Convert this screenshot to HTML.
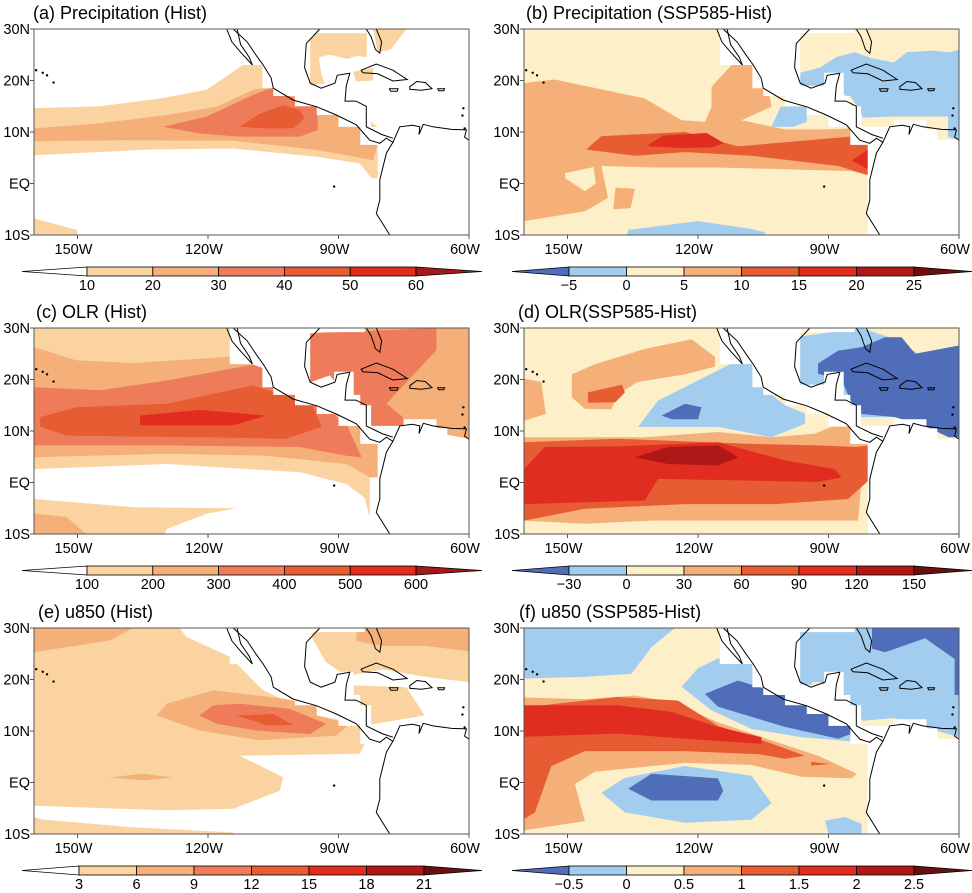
<!DOCTYPE html>
<html><head><meta charset="utf-8">
<style>
html,body{margin:0;padding:0;background:#fff;}
svg{display:block;font-family:"Liberation Sans",Arial,sans-serif;}
</style></head>
<body>
<svg id="fig" width="972" height="893" viewBox="0 0 972 893" xmlns="http://www.w3.org/2000/svg"></svg>
<script>
// ---------- data (lon in degrees E, negative = W; lat in degrees N) ----------
const lonTicks = [-150, -120, -90, -60];
const lonTickLabels = ["150W", "120W", "90W", "60W"];
const latTicks = [30, 20, 10, 0, -10];
const latTickLabels = ["30N", "20N", "10N", "EQ", "10S"];

const seqColors = ["#ffffff", "#fbd3a0", "#f5b07a", "#ee7b59", "#e75c33", "#e02d1f", "#b01818", "#6b1010"];
const divColors = ["#4f6db8", "#a3cdef", "#fdefc8", "#f5b07a", "#e75c33", "#e02d1f", "#b01818", "#6b1010"];

const precipLevels = ["10", "20", "30", "40", "50", "60"];
const precipDiffLevels = ["\u22125", "0", "5", "10", "15", "20", "25"];
const olrLevels = ["100", "200", "300", "400", "500", "600"];
const olrDiffLevels = ["\u221230", "0", "30", "60", "90", "120", "150"];
const uLevels = ["3", "6", "9", "12", "15", "18", "21"];
const uDiffLevels = ["\u22120.5", "0", "0.5", "1", "1.5", "2", "2.5"];

const precipHist = [
 [1, [[-160,14.6],[-144.8,15],[-131,16.5],[-120.3,18.2],[-112,23],[-100,23],[-90,15],[-85,12],[-83,10],[-80,7.2],[-80,1],[-82.4,1],[-85.1,3.9],[-95,5.2],[-114.2,6.8],[-133.4,6.6],[-160,5.5]]],
 [2, [[-160,10.7],[-144.8,11.7],[-129.5,13.3],[-118,14.9],[-109.6,18.2],[-105,18.8],[-95,15],[-88,13],[-83,10.5],[-81,8],[-82,4.5],[-85,5],[-95,6.5],[-114,8.3],[-140,8.4],[-160,8.2]]],
 [3, [[-130.3,11],[-120.3,13],[-109.6,17.2],[-105,18.7],[-101.2,16.9],[-95,14.9],[-94.7,10.4],[-98.9,9.1],[-112.7,9.1],[-121.9,9.7]]],
 [4, [[-112.7,11],[-108.1,13.6],[-102.7,15.2],[-98.9,14.3],[-97.8,12.7],[-100.4,10.7],[-107.3,10.7]]],
 [1, [[-160,-6.8],[-150.2,-9],[-150,-10],[-160,-10]]],
 [1, [[-97.4,27.2],[-95,29.2],[-83.5,29.2],[-83.5,24.5],[-85.5,24.8],[-88,24.2],[-92,25],[-94.5,24.5],[-94,21.5],[-93.2,19.4],[-97.4,19.1]]],
 [1, [[-82,30],[-74.4,30],[-78,26],[-81,25.5]]],
 [1, [[-86.6,21.7],[-82,22.5],[-82,20],[-86,19.8]]],
 [1, [[-85,13.6],[-81,11],[-84,9]]]
];
const precipDiff = [
 [3, [[-160,19.5],[-153,20.2],[-132.2,16.5],[-123.8,12.3],[-118.4,12],[-116.9,14.9],[-116.9,18.8],[-112.3,23],[-107.7,23],[-103.5,16.9],[-103.1,14.9],[-110,12.3],[-100,10.5],[-90,10.5],[-82.4,10.8],[-80,7.4],[-80,1.4],[-84.7,2.4],[-115.4,3.1],[-130.7,3.1],[-142.2,3.4],[-140.7,-2.8],[-146,-5.4],[-160,-7.3]]],
 [2, [[-150.6,2],[-144,3.2],[-143.5,0],[-146,-1.5],[-150.5,1]]],
 [3, [[-139,-0.8],[-134.5,-1],[-135.5,-4.8],[-139.5,-5]]],
 [1, [[-136,-9],[-120,-7.3],[-108,-8.8],[-104.6,-9.5],[-104.6,-10],[-136.4,-10]]],
 [4, [[-145.7,6.6],[-142.2,9.2],[-123,10],[-110.8,7.2],[-82.4,9.3],[-80,7.4],[-80,1.4],[-87.8,3.4],[-107.7,5.4],[-123,6.1],[-134.5,5.4]]],
 [5, [[-131.5,7.5],[-128,9.3],[-118,9.8],[-114,7.8],[-117,7],[-124,6.9],[-131,7.2]]],
 [5, [[-84.7,4.4],[-80,7.2],[-80,2.4]]],
 [6, [[-81.2,6],[-80,7],[-80,4.2]]],
 [1, [[-96.5,18.5],[-96.5,21.5],[-92,22.5],[-88,24.6],[-84,25.5],[-80,24.3],[-75,23.5],[-72,25.5],[-66,25.8],[-62,25.5],[-60,26],[-60,8.5],[-62.5,9],[-62.5,13],[-75,13],[-82,12.8],[-84.5,16.5],[-87,17.5],[-92,17]]],
 [1, [[-103.1,11],[-101,14.9],[-95,15],[-95,12],[-98,11]]]
];
const olrHist = [
 [1, [[-160,30],[-115,30],[-115,23.1],[-100,20],[-85,12],[-82.8,6],[-82.8,-6.8],[-84,-3],[-88.2,-0.3],[-98.9,2],[-129.5,3.6],[-160,2.6]]],
 [1, [[-160,-3.2],[-137,-4.8],[-113.4,-5],[-120,-6],[-129.5,-9],[-130,-10],[-160,-10]]],
 [2, [[-160,-6],[-152.5,-6.7],[-148,-10],[-160,-10]]],
 [2, [[-160,26.3],[-150.2,23.7],[-137.2,23.2],[-115,24.4],[-100,20],[-85,12],[-80,6.9],[-80,1],[-82.8,1],[-88.2,3.6],[-106.6,5.2],[-129.5,5.6],[-160,4.9]]],
 [2, [[-97.4,28.9],[-85,30],[-60,30],[-60,8.5],[-75,10.8],[-82.8,10.8],[-88,16],[-92,20.8],[-97.4,19.2]]],
 [3, [[-160,18.5],[-144.8,17.9],[-129.5,19.8],[-109.6,22.9],[-100,20],[-88,11],[-84.7,4.9],[-88.2,5.2],[-98.9,6.9],[-129.5,7.2],[-160,7.2]]],
 [3, [[-97.4,28.9],[-67.5,30],[-67.5,25.7],[-79,15.3],[-75.2,12.7],[-75.2,10.8],[-82.8,10.8],[-86,16],[-92,20.8],[-97.4,19.2]]],
 [4, [[-158.6,12.7],[-150.2,14.6],[-129.5,15.3],[-109.6,18.9],[-96,15],[-93.9,10.8],[-102,8.5],[-121.9,8.8],[-152.5,9.1],[-158.6,10.8]]],
 [5, [[-135.6,13],[-121.9,14.1],[-106.6,13],[-114.2,11.1],[-135.6,11.1]]]
];
const olrDiff = [
 [3, [[-160,20.2],[-156,19.5],[-155,13.3],[-160,12]]],
 [3, [[-149,16.5],[-149,21],[-143.7,23],[-132,26],[-121.5,27.8],[-116.1,24.4],[-116.1,22.5],[-123,21],[-134,19.5],[-138.5,17],[-139.9,14.2],[-146,14.3]]],
 [4, [[-145.3,17.5],[-137.5,19],[-136.8,17.5],[-139,15.6],[-145.3,15.5]]],
 [3, [[-160,8.8],[-132.2,8.8],[-115.4,9.8],[-103.1,8.8],[-93.1,9.5],[-89.3,10.8],[-82.4,10.8],[-80,6.9],[-80,1],[-82.4,0.7],[-83.2,-7.4],[-102.3,-7.4],[-130.7,-7.4],[-146,-8],[-160,-7.4]]],
 [4, [[-160,7.8],[-138.4,8.5],[-107.7,7.5],[-92.4,7.2],[-83.9,6.9],[-80,7.2],[-80,1],[-85.5,-3.2],[-102.3,-4.2],[-123,-4.2],[-146,-5.1],[-160,-7.4]]],
 [5, [[-160,2.6],[-155.2,6.9],[-138.4,7],[-115.4,7.8],[-100,4.3],[-88.5,2.6],[-87,1],[-92.4,0.1],[-129.2,0.7],[-132.2,-3.5],[-160,-4.2]]],
 [6, [[-134.6,4.9],[-126.9,6.9],[-115.4,7.2],[-110.8,4.9],[-115.4,3.3],[-126.9,3.6]]],
 [1, [[-133.8,10.8],[-129.2,15.9],[-112.3,23.1],[-107.7,23.1],[-105.4,18.5],[-100,15],[-95.4,13.4],[-95.4,11.4],[-103.1,8.8],[-115.4,10.8]]],
 [0, [[-128.4,13],[-123,15.3],[-119.2,14.6],[-120,12.3],[-126,12.3]]],
 [1, [[-97.7,28.2],[-82.4,30],[-74,27.6],[-69.4,25],[-60,26.3],[-60,8.8],[-74.7,12.7],[-84.7,12.7],[-85,16],[-97.7,18.9]]],
 [0, [[-92.4,23.1],[-87.8,25.6],[-82.4,26.3],[-77,28.2],[-73.2,28.2],[-70.1,25],[-60,26.6],[-60,8.8],[-62.4,8.8],[-67.4,10.8],[-74.7,12.7],[-82.4,13.3],[-85,16],[-86.9,19.8],[-92.4,21.1]]]
];
const uHist = [
 [1, [[-160,30],[-126.5,30],[-125,28.3],[-115,24.4],[-107.3,17.9],[-95,13],[-85.1,11.4],[-84,7.5],[-85.1,5.6],[-112.7,5.2],[-102.7,1],[-103.5,-1.6],[-114.2,-5.1],[-129.5,-5.4],[-160,-4.5]]],
 [1, [[-160,-6.7],[-157.9,-7.2],[-137.2,-8.7],[-114.2,-9.7],[-114.2,-10],[-160,-10]]],
 [2, [[-160,30],[-137.2,30],[-142.5,27.6],[-160,25.3]]],
 [2, [[-131.8,13],[-129.5,15.3],[-118.8,17.9],[-102.7,16.3],[-95,15],[-95,13],[-87.4,11.4],[-90.5,9.1],[-108.1,8.2],[-121.9,10.1]]],
 [3, [[-122,13],[-118.8,15],[-112.7,15.3],[-101.2,14.3],[-92.8,11.4],[-96.6,9.4],[-108.9,10.1],[-118,11.4]]],
 [4, [[-113.4,13],[-105,13.3],[-100.4,11.1],[-106.6,11.1],[-109.6,12]]],
 [2, [[-142.5,1],[-134.9,1.7],[-128,1],[-134.9,0.4]]],
 [1, [[-96,30],[-60,30],[-60,19.5],[-70,20.5],[-80,22],[-86,21],[-88,20.5],[-93,23.5],[-96,28]]],
 [2, [[-85.9,30],[-60,30],[-60,25.5],[-70,26.5],[-80,26.5],[-85.9,27.5]]],
 [1, [[-87.4,18.9],[-74.4,18.5],[-70.2,13],[-83.6,11.1],[-87.4,16.1]]]
];
const uDiff = [
 [1, [[-160,30],[-125.3,30],[-130.7,26.3],[-135.3,21.1],[-146,20.5],[-160,20.2]]],
 [1, [[-123.8,18.6],[-120,22.2],[-115.4,24.1],[-100,24],[-80,8.8],[-82.4,7.8],[-96.2,8.8],[-107.7,10.4],[-116.9,14]]],
 [0, [[-118.4,17.2],[-110.8,19.8],[-100,17],[-84.7,12.7],[-81.6,10.4],[-87.8,8.5],[-100,10.8],[-115.4,14.7]]],
 [1, [[-97.5,30],[-60,30],[-60,8.8],[-75,12.5],[-82,12],[-85,14.5],[-87,17],[-92,19.5],[-97.5,19.5]]],
 [0, [[-80,30],[-60,30],[-60,17],[-61,17],[-61,24],[-67.8,28],[-77,25.3],[-80,26]]],
 [3, [[-160,16.5],[-146,16.2],[-134.5,16.9],[-126,15.6],[-115.4,11.7],[-103.9,8.4],[-92.4,5.2],[-83.5,1.7],[-84.7,0.8],[-96.2,1.1],[-107.7,3.4],[-123,3.8],[-143.7,2.1],[-148.3,-0.3],[-146,-7.5],[-160,-9.3]]],
 [4, [[-160,14.6],[-138.4,16.6],[-124.6,15.9],[-115.4,11],[-103.9,7.8],[-95.4,5.2],[-100,4.6],[-106,5.5],[-123,6.1],[-146,6.1],[-153.7,3.2],[-157.5,-5.8],[-160,-7.1]]],
 [5, [[-160,15],[-138.4,15],[-126.1,13.7],[-115.4,10.8],[-105.4,8.8],[-105.4,7.5],[-123,8.5],[-138.4,9.5],[-160,8.9]]],
 [4, [[-94,4],[-89.5,3.6],[-94,3.3]]],
 [1, [[-142.2,-2],[-136.8,0.9],[-123,3.2],[-107.7,1.3],[-103.1,-4],[-107.7,-7.2],[-123,-7.8],[-136.8,-5.8]]],
 [0, [[-136,-1.2],[-130.7,1.7],[-115.4,0.8],[-114.2,-1.6],[-115.4,-3.5],[-130.7,-3.5]]],
 [1, [[-90.8,-7.4],[-86.2,-6.7],[-82.4,-8],[-82.4,-10],[-90,-10]]]
];

const landMask = [[-115,30],[-115,23],[-107.5,23],[-107.5,18.5],[-105,18.5],[-105,17],[-100,17],[-100,15],[-95,15],[-95,13.3],[-90,13.3],[-90,11],[-85,11],[-85,7.5],[-81,7.5],[-81,-10],[-60,-10],[-60,8.5],[-65,8.5],[-65,10.5],[-67.5,10.5],[-67.5,12.3],[-75,12.3],[-75,11],[-82.5,11],[-82.5,15],[-85,15],[-85,17],[-86.5,17],[-86.5,21.5],[-91,21.5],[-91,19],[-96.5,19],[-96.5,29.2],[-84,29.2],[-84,30]];
const coastMain = [[-114.2,30],[-111,27.5],[-109,25],[-107.3,23],[-105.5,20.5],[-105,18.5],[-100.4,16.2],[-95,14.9],[-90.5,13.3],[-85.9,11.4],[-82.8,8.4],[-80.5,7.8],[-79,8.8],[-77.5,8],[-79,5.9],[-80.5,0.7],[-80.5,-3.2],[-81.3,-5.8],[-78.2,-10]];
const coastBaja = [[-115.7,30],[-114.5,27.5],[-112.5,25.5],[-109.8,23],[-110.5,24.5],[-112.5,27],[-113.3,30]];
const coastCarib = [[-77.5,8],[-75.9,11],[-73,11.3],[-71.3,11],[-71.5,9.5],[-70.5,11.5],[-68.3,11],[-64,10.5],[-60.6,10.4],[-61,9],[-60,8.4]];
const coastCA = [[-77.5,8.8],[-80,9.5],[-83.6,11],[-83.6,15],[-86,16],[-88.5,16],[-88.2,19],[-87.4,21.4],[-90.3,21],[-90.8,19.5],[-94,18.5],[-96.5,19.5],[-97.8,22.5],[-97.4,27.2],[-94.3,30]];
const coastFlorida = [[-83.6,30],[-82.5,28.5],[-81.5,26],[-80.5,25.3],[-80.1,27.5],[-81.3,30]];
const coastCuba = [[-84.8,22],[-81.3,23.2],[-77.5,22],[-74.2,20.2],[-77.5,19.9],[-81,21.3],[-84.4,21.5]];
const coastHisp = [[-73.6,18.8],[-72,19.8],[-70,19.6],[-68.5,18.4],[-71,18.1],[-73.6,18.3]];
const coastJam = [[-78.3,18.4],[-76.3,18.4],[-76.5,17.9],[-78,17.9]];
const coastPR = [[-67.2,18.4],[-65.6,18.4],[-65.8,18],[-67,18]];
const islandDots = [[-155.5,19.6],[-157,21],[-158,21.5],[-159.5,22],[-91,-0.6],[-61,10.7],[-61.5,13.2],[-61.3,14.6]];

const panels = [
 {id:"a", title:"(a) Precipitation (Hist)", tx:33, ty:19, x0:34, y0:29, field:precipHist, colors:seqColors, bg:"#ffffff", cb:{start:22, b0:87, b1:416, end:482, labels:precipLevels, cols:["#ffffff","#fbd3a0","#f5b07a","#ee7b59","#e75c33","#e02d1f","#a51818"]}},
 {id:"b", title:"(b) Precipitation (SSP585-Hist)", tx:526, ty:19, x0:524, y0:29, field:precipDiff, colors:divColors, bg:"#fdefc8", cb:{start:512, b0:569, b1:914, end:972, labels:precipDiffLevels, cols:divColors}},
 {id:"c", title:"(c) OLR (Hist)", tx:36, ty:318, x0:34, y0:328, field:olrHist, colors:seqColors, bg:"#ffffff", cb:{start:22, b0:87, b1:416, end:482, labels:olrLevels, cols:["#ffffff","#fbd3a0","#f5b07a","#ee7b59","#e75c33","#e02d1f","#a51818"]}},
 {id:"d", title:"(d) OLR(SSP585-Hist)", tx:518, ty:318, x0:524, y0:328, field:olrDiff, colors:divColors, bg:"#fdefc8", cb:{start:512, b0:569, b1:914, end:972, labels:olrDiffLevels, cols:divColors}},
 {id:"e", title:"(e) u850 (Hist)", tx:38, ty:618, x0:34, y0:628, field:uHist, colors:seqColors, bg:"#ffffff", cb:{start:22, b0:79, b1:424, end:482, labels:uLevels, cols:seqColors}},
 {id:"f", title:"(f) u850 (SSP585-Hist)", tx:519, ty:618, x0:524, y0:628, field:uDiff, colors:divColors, bg:"#fdefc8", cb:{start:512, b0:569, b1:914, end:972, labels:uDiffLevels, cols:divColors}}
];

const NS = "http://www.w3.org/2000/svg";
const svg = document.getElementById("fig");
const W = 435, H = 206;
function mk(tag, attrs, parent) {
  const e = document.createElementNS(NS, tag);
  for (const k in attrs) e.setAttribute(k, attrs[k]);
  (parent || svg).appendChild(e);
  return e;
}
function xScale(p, lon) { return p.x0 + (lon + 160) / 100 * W; }
function yScale(p, lat) { return p.y0 + (30 - lat) / 40 * H; }
function pts(p, arr) { return arr.map(q => xScale(p, q[0]).toFixed(1) + "," + yScale(p, q[1]).toFixed(1)).join(" "); }

panels.forEach(p => {
  const g = mk("g", {});
  
  
  const clipId = "clip" + p.id;
  const cp = mk("clipPath", {id: clipId}, g);
  mk("rect", {x: p.x0, y: p.y0, width: W, height: H}, cp);
  const map = mk("g", {"clip-path": "url(#" + clipId + ")"}, g);
  
  
  const bg = mk("rect", {x: p.x0, y: p.y0, width: W, height: H, fill: p.bg}, map);
  
  
  p.field.forEach(f => {
    const poly = mk("polygon", {points: pts(p, f[1]), fill: p.colors[f[0]]}, map);
    
    
  });
  const mask = mk("polygon", {points: pts(p, landMask), fill: "#ffffff"}, map);
  
  
  [coastMain, coastBaja, coastCarib, coastCA].forEach(c => {
    const l = mk("polyline", {points: pts(p, c), fill: "none", stroke: "#000", "stroke-width": 1}, map);
    
    
  });
  [coastFlorida, coastCuba, coastHisp, coastJam, coastPR].forEach(c => {
    const l = mk("polygon", {points: pts(p, c), fill: "none", stroke: "#000", "stroke-width": 1}, map);
    
    
  });
  islandDots.forEach(d => {
    const c = mk("circle", {cx: xScale(p, d[0]), cy: yScale(p, d[1]), r: 1.2, fill: "#000"}, map);
    
    
  });
  const fr = mk("rect", {x: p.x0, y: p.y0, width: W, height: H, fill: "none", stroke: "#555", "stroke-width": 1}, g);
  
  
  const t = mk("text", {x: p.tx, y: p.ty, "font-size": 18, fill: "#000"}, g);
  t.textContent = p.title;
  
  
  latTicks.forEach((lat, i) => {
    const y = yScale(p, lat);
    mk("line", {x1: p.x0 - 4, x2: p.x0, y1: y, y2: y, stroke: "#555"}, g);
    const tl = mk("text", {x: p.x0 - 4, y: y + 5, "font-size": 14.5, "text-anchor": "end"}, g);
    tl.textContent = latTickLabels[i];
    
    
  });
  lonTicks.forEach((lon, i) => {
    const x = xScale(p, lon);
    mk("line", {x1: x, x2: x, y1: p.y0 + H, y2: p.y0 + H + 4, stroke: "#555"}, g);
    const tl = mk("text", {x: x - 4, y: p.y0 + H + 19, "font-size": 14.5, "text-anchor": "middle"}, g);
    tl.textContent = lonTickLabels[i];
    
    
  });
  const cb = p.cb, cy0 = p.y0 + H + 32, ch = 9;
  const cbg = mk("g", {}, g);
  
  
  const n = cb.labels.length - 1, bw = (cb.b1 - cb.b0) / n;
  const lt = mk("polygon", {points: `${cb.start},${cy0 + ch/2} ${cb.b0},${cy0} ${cb.b0},${cy0 + ch}`, fill: cb.cols[0], stroke: "#000", "stroke-width": 0.8}, cbg);
  
  
  for (let i = 0; i < n; i++) {
    const r = mk("rect", {x: cb.b0 + i * bw, y: cy0, width: bw, height: ch, fill: cb.cols[i + 1], stroke: "#000", "stroke-width": 0.8}, cbg);
    
    
  }
  const rt = mk("polygon", {points: `${cb.b1},${cy0} ${cb.end},${cy0 + ch/2} ${cb.b1},${cy0 + ch}`, fill: cb.cols[n + 1], stroke: "#000", "stroke-width": 0.8}, cbg);
  
  
  cb.labels.forEach((lab, i) => {
    const tl = mk("text", {x: cb.b0 + i * bw, y: cy0 + ch + 14, "font-size": 14.5, "text-anchor": "middle"}, cbg);
    tl.textContent = lab;
    
    
  });
});
</script>
</body></html>
